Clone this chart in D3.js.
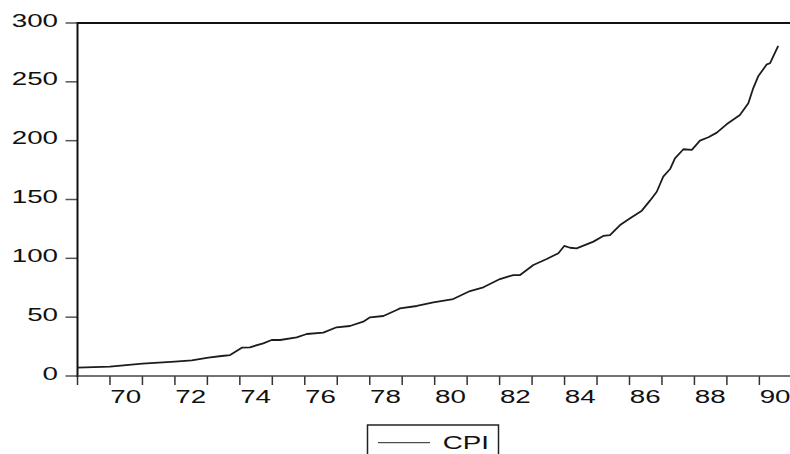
<!DOCTYPE html>
<html>
<head>
<meta charset="utf-8">
<script src="https://cdn.jsdelivr.net/npm/d3@7"></script>
<style>
  html, body { margin: 0; padding: 0; background: #fff; }
  svg { display: block; }
  text { font-family: "Liberation Sans", Arial, sans-serif; fill: #111; }
</style>
</head>
<body>
<div id="chart"></div>
<script>
// dates as decimal years
var dates = [1969.0, 1970.0, 1971.0, 1972.0, 1972.52, 1973.03, 1973.44, 1973.70,
  1974.06, 1974.31, 1974.72, 1974.98, 1975.24, 1975.75, 1976.06, 1976.57, 1976.98,
  1977.39, 1977.80, 1978.01, 1978.42, 1978.83, 1978.93, 1979.45, 1979.96, 1980.57,
  1981.09, 1981.50, 1982.01, 1982.42, 1982.63, 1983.04, 1983.45, 1983.81, 1983.99,
  1984.17, 1984.37, 1984.89, 1985.19, 1985.40, 1985.71, 1986.02, 1986.38, 1986.63,
  1986.84, 1987.04, 1987.25, 1987.40, 1987.66, 1987.92, 1988.17, 1988.43, 1988.69,
  1988.99, 1989.40, 1989.66, 1989.81, 1989.97, 1990.23, 1990.33, 1990.58];
var cpi = [7.1, 7.9, 10.5, 12.2, 13.3, 15.6, 17.0, 17.8,
  24.1, 24.4, 27.8, 30.6, 30.6, 32.9, 35.7, 36.8, 41.4,
  42.5, 46.2, 49.9, 51.0, 56.1, 57.5, 59.5, 62.6, 65.4,
  72.2, 75.4, 82.4, 85.8, 85.8, 94.3, 99.4, 104.3, 110.5,
  109.0, 108.5, 114.2, 119.0, 119.8, 128.3, 134.0, 140.5, 149.0,
  156.6, 169.4, 175.9, 185.0, 192.7, 192.1, 200.0, 202.9, 206.8,
  213.9, 221.8, 231.8, 244.5, 255.0, 264.9, 265.8, 280.5];
var yTicks = [0, 50, 100, 150, 200, 250, 300];
var yearTicks = d3.range(1969, 1991);
var yearLabels = ["70", "72", "74", "76", "78", "80", "82", "84", "86", "88", "90"];
var seriesName = "CPI";

var width = 790, height = 454;
var plotLeft = 77.5, plotTop = 23, plotBottom = 376;
var stretch = 1.5; // text in the picture is wide

var svg = d3.select("#chart").append("svg")
  .attr("width", width).attr("height", height);

var x = d3.scaleLinear().domain([1969, 1991]).range([plotLeft, plotLeft + 22 * 32.47]);
var y = d3.scaleLinear().domain([0, 300]).range([plotBottom, plotTop]);

// y ticks + labels
svg.append("g").selectAll("line").data(yTicks).enter().append("line")
  .attr("x1", plotLeft - 12).attr("x2", plotLeft)
  .attr("y1", function(d) { return y(d); }).attr("y2", function(d) { return y(d); })
  .attr("stroke", "#555").attr("stroke-width", 1.5);

svg.append("g").selectAll("text").data(yTicks).enter().append("text")
  .attr("transform", function(d) { return "translate(58," + (y(d) + 3.5) + ") scale(" + stretch + ",1)"; })
  .attr("text-anchor", "end")
  .style("font-size", "18.5px")
  .text(function(d) { return d; });

// x ticks every year, labels every other year centred in the year
svg.append("g").selectAll("line").data(yearTicks).enter().append("line")
  .attr("x1", function(d) { return x(d); }).attr("x2", function(d) { return x(d); })
  .attr("y1", plotBottom).attr("y2", plotBottom + 9)
  .attr("stroke", "#333").attr("stroke-width", 1.5);

svg.append("g").selectAll("text").data(yearLabels).enter().append("text")
  .attr("transform", function(d) { return "translate(" + (x(1900 + (+d) + 0.5) - 0.5) + ",402.5) scale(" + stretch + ",1)"; })
  .attr("text-anchor", "middle")
  .style("font-size", "18.5px")
  .text(function(d) { return d; });

// frame
svg.append("line").attr("x1", plotLeft).attr("x2", width + 5).attr("y1", plotTop).attr("y2", plotTop)
  .attr("stroke", "#111").attr("stroke-width", 2);
svg.append("line").attr("x1", plotLeft).attr("x2", plotLeft).attr("y1", plotTop - 1).attr("y2", plotBottom + 1)
  .attr("stroke", "#111").attr("stroke-width", 2);
svg.append("line").attr("x1", plotLeft).attr("x2", width + 5).attr("y1", plotBottom).attr("y2", plotBottom)
  .attr("stroke", "#444").attr("stroke-width", 1.5);

// series
var pts = dates.map(function(d, i) { return [d, cpi[i]]; });
var line = d3.line()
  .x(function(d) { return x(d[0]); })
  .y(function(d) { return y(d[1]); });

svg.append("path").datum(pts)
  .attr("d", line)
  .attr("fill", "none")
  .attr("stroke", "#1c1c1c")
  .attr("stroke-width", 1.8)
  .attr("stroke-linejoin", "round");

// legend
var lg = svg.append("g");
lg.append("rect").attr("x", 367.5).attr("y", 425).attr("width", 131).attr("height", 40)
  .attr("fill", "none").attr("stroke", "#222").attr("stroke-width", 1.5);
lg.append("line").attr("x1", 378).attr("x2", 430).attr("y1", 442.7).attr("y2", 442.7)
  .attr("stroke", "#222").attr("stroke-width", 1);
lg.append("text")
  .attr("transform", "translate(442.7,448.5) scale(" + stretch + ",1)")
  .style("font-size", "18.5px")
  .text(seriesName);
</script>
</body>
</html>
